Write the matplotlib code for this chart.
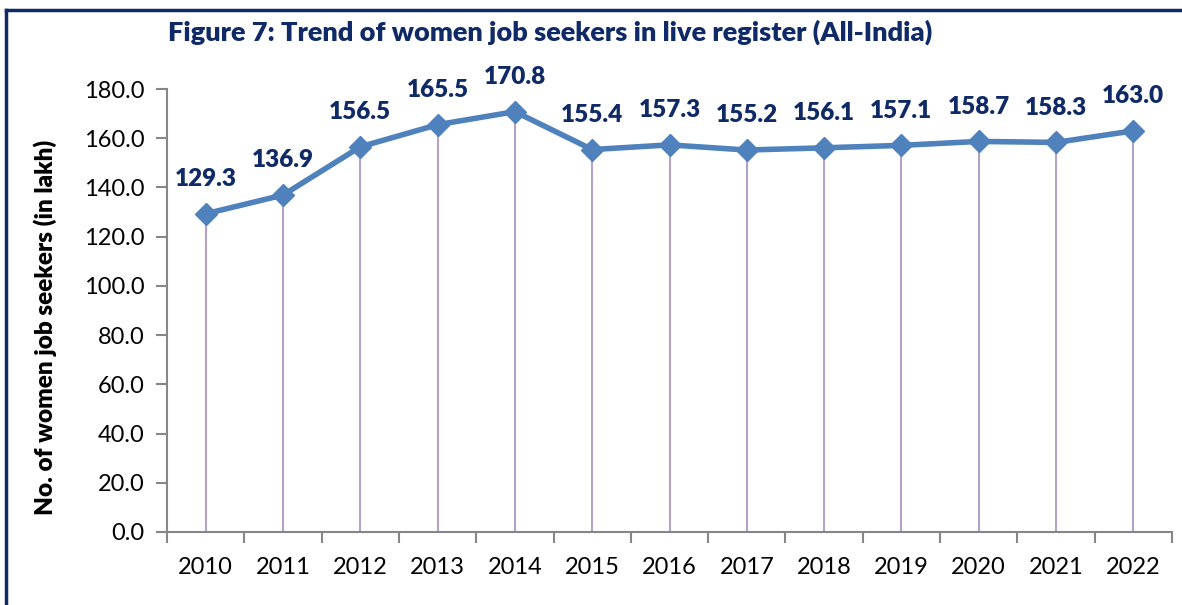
import matplotlib
matplotlib.use("Agg")
import matplotlib.pyplot as plt
from matplotlib.lines import Line2D
import numpy as np

years = ["2010", "2011", "2012", "2013", "2014", "2015", "2016", "2017",
         "2018", "2019", "2020", "2021", "2022"]
values = [129.3, 136.9, 156.5, 165.5, 170.8, 155.4, 157.3, 155.2,
          156.1, 157.1, 158.7, 158.3, 163.0]
yticks = [0, 20, 40, 60, 80, 100, 120, 140, 160, 180]

title = "Figure 7: Trend of women job seekers in live register (All-India)"
ylabel = "No. of women job seekers (in lakh)"

plt.rcParams['font.family'] = ['Lato', 'DejaVu Sans']

navy = "#0F2A66"
line_col = "#4F81BD"
drop_col = "#B3A2C7"
axis_col = "#868686"

W, H = 1182, 605
fig = plt.figure(figsize=(W / 100, H / 100), dpi=100)
ax = fig.add_axes([167 / W, 1 - 532 / H, (1172 - 167) / W, (532 - 89) / H])

x = np.arange(len(years))
ax.vlines(x, 0, values, color=drop_col, lw=1.5, zorder=1)
ax.plot(x, values, color=line_col, lw=4, marker='D', markersize=11,
        markerfacecolor=line_col, markeredgecolor=line_col, zorder=3)

for xi, v in zip(x, values):
    ax.annotate(f"{v:.1f}", (xi, v), xytext=(0, 25), textcoords='offset points',
                ha='center', va='center', fontsize=17.5, fontweight='heavy', color=navy)

ax.set_xlim(-0.5, len(years) - 0.5)
ax.set_ylim(0, 180)
ax.set_yticks(yticks)
ax.set_yticklabels([f"{t:.1f}" for t in yticks], fontsize=17)
ax.set_xticks(np.arange(len(years) + 1) - 0.5)
ax.set_xticklabels([])
ax.set_xticks(x, minor=True)
ax.set_xticklabels(years, minor=True, fontsize=17)
ax.tick_params(axis='x', which='minor', length=0, pad=18)
ax.tick_params(axis='x', which='major', length=8, width=1.5, color=axis_col, direction='out')
ax.tick_params(axis='y', length=8, width=1.5, color=axis_col, direction='out', pad=8)

for s in ['top', 'right']:
    ax.spines[s].set_visible(False)
for s in ['left', 'bottom']:
    ax.spines[s].set_color(axis_col)
    ax.spines[s].set_linewidth(1.5)

ax.set_ylabel(ylabel, fontsize=17.5, fontweight='heavy')
ax.yaxis.set_label_coords(-122 / (1172 - 167), (532 - 327) / (532 - 89))
ax.yaxis.label.set_va('center')

fig.text(168 / W, 1 - 32 / H, title, fontsize=19.5, fontweight='heavy', color=navy,
         ha='left', va='center')

# border
fig.add_artist(Line2D([6 / W, 6 / W], [0, 1 - 10 / H], transform=fig.transFigure,
                      color=navy, lw=2.5))
fig.add_artist(Line2D([6 / W, 1], [1 - 10 / H, 1 - 10 / H], transform=fig.transFigure,
                      color=navy, lw=2.5))

fig.savefig("out.png", dpi=100)
